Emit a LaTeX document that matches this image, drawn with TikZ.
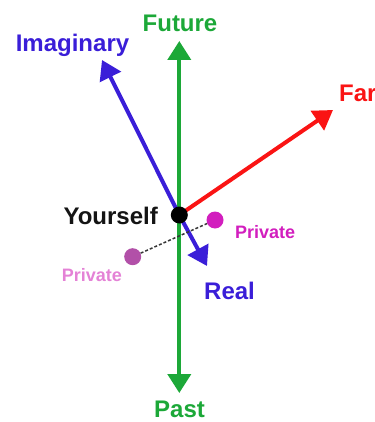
\documentclass[tikz,border=0pt]{standalone}
\usepackage{fontspec}
\setmainfont{Liberation Sans}
\usetikzlibrary{arrows.meta}
\definecolor{cgreen}{RGB}{28,168,56}
\definecolor{cblue}{RGB}{58,30,216}
\definecolor{cred}{RGB}{250,20,20}
\definecolor{cblack}{RGB}{20,20,20}
\definecolor{cmag}{RGB}{210,30,190}
\definecolor{cpinktxt}{RGB}{228,130,214}
\definecolor{cpurpdot}{RGB}{178,80,168}
\tikzset{
  axis/.style={line width=4pt,-{Triangle[length=19pt,width=23pt]}},
  biglabel/.style={inner sep=0pt,font=\fontsize{24}{24}\selectfont\bfseries},
  smalllabel/.style={inner sep=0pt,font=\fontsize{18}{18}\selectfont\bfseries},
  dotnode/.style={circle,inner sep=0pt,minimum size=17pt},
}
\begin{document}
\begin{tikzpicture}[x=1pt,y=-1pt]
\useasboundingbox (0,0) rectangle (374,422);
% anchor coordinates
\coordinate (c) at (179.3,215);
\coordinate (fut) at (179.3,41);
\coordinate (pst) at (179.3,393);
\coordinate (img) at (102,60);
\coordinate (rl) at (207,266);
\coordinate (far) at (333,110);
% axes
\draw[axis,cgreen] (c) -- (fut);
\draw[axis,cgreen] (c) -- (pst);
\draw[axis,cred] (c) -- (far);
\draw[axis,cblue] (c) -- (img);
\draw[axis,cblue] (c) -- (rl);
% private dots and dotted link
\node[dotnode,fill=cmag] (pr) at (215,220) {};
\node[dotnode,fill=cpurpdot] (pl) at (132.7,256.7) {};
\draw[cblack!85,line width=1.5pt,dash pattern=on 3pt off 2pt] (pl) -- (pr);
% yourself dot
\node[dotnode,fill=black] (you) at (c) {};
% labels
\node[biglabel,text=cgreen,anchor=base] (tfut) at (180,32) {Future};
\node[biglabel,text=cblue,anchor=base] (timg) at (72.5,52) {Imaginary};
\node[biglabel,text=cred,anchor=base west] (tfar) at (339,102) {Far};
\node[biglabel,text=cblack,anchor=base east] (tyou) at (158,224) {Yourself};
\node[smalllabel,text=cmag,anchor=base west] (tpr) at (235,238) {Private};
\node[smalllabel,text=cpinktxt,anchor=base west] (tpl) at (61.7,281) {Private};
\node[biglabel,text=cblue,anchor=base west] (treal) at (204,299.5) {Real};
\node[biglabel,text=cgreen,anchor=base] (tpast) at (179.5,417) {Past};
\end{tikzpicture}
\end{document}
